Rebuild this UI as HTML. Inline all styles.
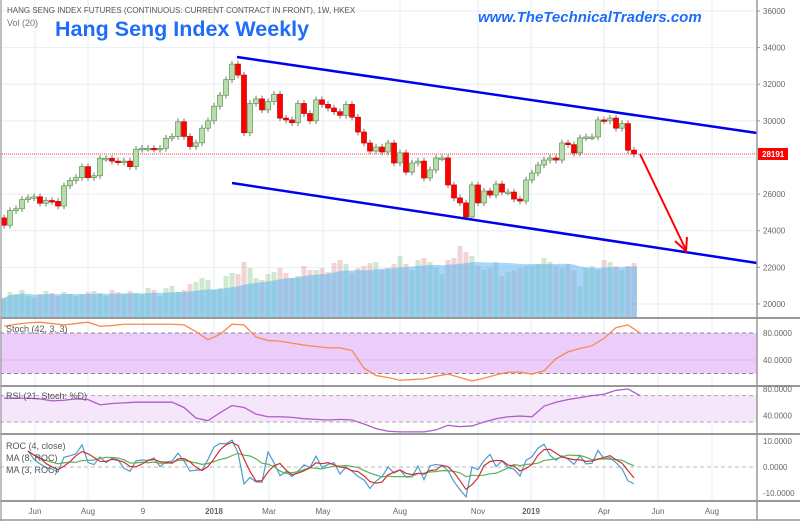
<!DOCTYPE html>
<html><head><meta charset="utf-8"><style>
html,body{margin:0;padding:0;background:#fff;}
svg{display:block;font-family:"Liberation Sans",sans-serif;}
</style></head><body>
<svg id="c" width="800" height="521" viewBox="0 0 800 521"></svg>
<script>
const closes=[24300,25100,25200,25700,25800,25850,25500,25650,25600,25350,
26450,26750,26900,27500,26900,27000,27950,27950,27800,27750,
27800,27500,28450,28500,28500,28450,28500,29050,29150,29950,
29150,28600,28800,29600,30000,30800,31400,32250,33100,32500,
29350,30950,31200,30600,31050,31450,30150,30050,29900,30950,
30400,30000,31150,30900,30700,30500,30300,30900,30200,29390,
28790,28350,28570,28300,28790,27700,28250,27200,27700,27800,
26880,27320,27970,27970,26500,25790,25520,24750,26500,25520,
26170,25950,26550,26110,26110,25730,25620,26770,27150,27590,
27860,27970,27860,28790,28700,28250,29070,29120,29120,30050,
30000,30150,29600,29850,28400,28191];
const volumes=[20,26,24,28,22,20,24,27,25,22,26,24,22,24,26,27,25,22,28,26,
24,27,25,24,30,28,22,30,32,26,28,34,36,40,38,28,30,42,45,44,
56,50,40,38,44,46,50,45,40,42,52,48,48,50,46,55,58,54,45,50,
52,55,56,48,50,54,62,54,48,58,60,56,50,44,58,60,72,66,62,52,
48,50,56,42,46,48,50,52,52,54,60,56,52,50,54,48,32,50,52,48,
58,56,52,48,52,55];
const stochVals=[90,93,95,96,94,92,94,96,90,91,93,93,93,93,93,92,82,70,78,93,92,74,69,68,65,62,60,58,58,54,28,17,14,10,11,12,16,19,14,9,13,18,22,22,19,24,42,52,57,61,72,88,92,80];
const rsiVals=[66,66,66,65,62,63,65,64,56,58,59,60,60,60,60,52,36,32,44,55,52,42,38,38,37,35,34,33,34,33,27,20,16,15,15,15,18,25,23,24,30,35,38,39,38,54,60,64,67,70,72,78,80,70];
const priceTicks=[36000,34000,32000,30000,26000,24000,22000,20000];
const timeLabels=["Jun","Aug","9","2018","Mar","May","Aug","Nov","2019","Apr","Jun","Aug"];
const timeLabelX=[35,88,143,214,269,323,400,478,531,604,658,712];
const lastPrice=28191;

const svg=document.getElementById('c');
const NS='http://www.w3.org/2000/svg';
function mk(t,a,parent){const e=document.createElementNS(NS,t);for(const k in a)e.setAttribute(k,a[k]);(parent||svg).appendChild(e);return e;}
const xOf=i=>4+6*i;
const yP=v=>11+(36000-v)*0.01831;
const yS=v=>333+(80-v)*0.675;
const yR=v=>389+(80-v)*0.66;
const yRoc=v=>467-v*2.6;
const yV=v=>318-v;

const grid=mk('g',{});

timeLabelX.forEach(x=>mk('line',{x1:x,y1:0,x2:x,y2:501,stroke:'#e6eef6','stroke-width':1},grid));
[36000,34000,32000,30000,28000,26000,24000,22000,20000].forEach(v=>mk('line',{x1:0,y1:yP(v),x2:757,y2:yP(v),stroke:'#e6eef6','stroke-width':1},grid));

const vg=mk('g',{});
volumes.forEach((v,i)=>{const up=i==0||closes[i]>=closes[i-1];
 const r=mk('rect',{x:xOf(i)-2.5,y:yV(v),width:5,height:v,fill:up?'rgba(150,205,150,0.45)':'rgba(225,160,160,0.45)'},vg);
 });
let maPts=[];volumes.forEach((v,i)=>{const s=volumes.slice(Math.max(0,i-19),i+1);const m=s.reduce((a,b)=>a+b,0)/s.length;maPts.push([xOf(i),yV(m)]);});
let d='M'+(xOf(0)-3)+',318 L'+(xOf(0)-3)+','+maPts[0][1]+maPts.map(p=>' L'+p[0]+','+p[1]).join('')+' L'+(xOf(volumes.length-1)+3)+','+maPts[maPts.length-1][1]+' L'+(xOf(volumes.length-1)+3)+',318Z';
const va=mk('path',{d:d,fill:'rgba(95,180,240,0.55)'});

const pl=mk('line',{x1:0,y1:yP(lastPrice),x2:757,y2:yP(lastPrice),stroke:'#f33','stroke-width':1,'stroke-dasharray':'1,1'});


const cg=mk('g',{});
closes.forEach((c,i)=>{const o=i==0?24700:closes[i-1];const up=c>=o;
 const hi=Math.max(o,c)+180,lo=Math.min(o,c)-180;
 mk('line',{x1:xOf(i),y1:yP(hi),x2:xOf(i),y2:yP(lo),stroke:'#777','stroke-width':1},cg);
 const t=yP(Math.max(o,c)),b=yP(Math.min(o,c));
 const r=mk('rect',{x:xOf(i)-2.5,y:t,width:5,height:Math.max(1.5,b-t),fill:up?'#b8dcae':'#f00',stroke:up?'#5a9a4a':'#c00','stroke-width':0.7},cg);
 });

const ch1=mk('line',{x1:237,y1:57,x2:757,y2:133,stroke:'#0000ee','stroke-width':2.5});

const ch2=mk('line',{x1:232,y1:183,x2:757,y2:263,stroke:'#0000ee','stroke-width':2.5});

const ar=mk('g',{});
mk('line',{x1:640,y1:154,x2:686,y2:250,stroke:'#f00','stroke-width':2},ar);
mk('polyline',{points:'675,241 686,251 687,237',fill:'none',stroke:'#f00','stroke-width':2},ar);

const sg=mk('g',{});
mk('rect',{x:0,y:yS(80),width:757,height:yS(20)-yS(80),fill:'#ecccfa'},sg);
mk('line',{x1:0,y1:yS(40),x2:757,y2:yS(40),stroke:'#dcb8f0'},sg);
[80,20].forEach(v=>mk('line',{x1:0,y1:yS(v),x2:757,y2:yS(v),stroke:'#888','stroke-dasharray':'4,3'},sg));
const sl=mk('polyline',{points:stochVals.map((v,k)=>xOf(2*k)+','+yS(v)).join(' '),fill:'none',stroke:'#f98a4a','stroke-width':1.3},sg);

const rg=mk('g',{});
mk('rect',{x:0,y:yR(70),width:757,height:yR(30)-yR(70),fill:'#f5e6fc'},rg);
[70,30].forEach(v=>mk('line',{x1:0,y1:yR(v),x2:757,y2:yR(v),stroke:'#aaa','stroke-dasharray':'4,3'},rg));
const rl=mk('polyline',{points:rsiVals.map((v,k)=>xOf(2*k)+','+yR(v)).join(' '),fill:'none',stroke:'#b05cc8','stroke-width':1.3},rg);

const og=mk('g',{});
mk('line',{x1:0,y1:yRoc(0),x2:757,y2:yRoc(0),stroke:'#bbb','stroke-dasharray':'4,3'},og);
const roc=[];closes.forEach((c,i)=>{if(i>=4)roc.push([i,(c/closes[i-4]-1)*100]);});
function ma(n){return roc.map((p,j)=>{const s=roc.slice(Math.max(0,j-n+1),j+1);return [p[0],s.reduce((a,b)=>a+b[1],0)/s.length];});}
[[roc,'#4a9ccc','roc-line'],[ma(8),'#5cb05c','roc-ma8-line'],[ma(3),'#d03030','roc-ma3-line']].forEach(([arr,col,nm])=>{
 const l=mk('polyline',{points:arr.map(p=>xOf(p[0])+','+yRoc(p[1])).join(' '),fill:'none',stroke:col,'stroke-width':1.2},og);
 });

[318,386,434,501].forEach(y=>mk('line',{x1:0,y1:y,x2:800,y2:y,stroke:'#999','stroke-width':2}));
mk('line',{x1:757,y1:0,x2:757,y2:521,stroke:'#999','stroke-width':1.5});
mk('line',{x1:1,y1:0,x2:1,y2:521,stroke:'#aaa','stroke-width':1.5});
mk('line',{x1:0,y1:520,x2:800,y2:520,stroke:'#999','stroke-width':1.5});

const ax=mk('g',{'font-size':8,fill:'#666'});
priceTicks.forEach(v=>{mk('line',{x1:757,y1:yP(v),x2:760,y2:yP(v),stroke:'#999'},ax);const t=mk('text',{x:763,y:yP(v)+3},ax);t.textContent=v;});
const pb=mk('g',{});
mk('rect',{x:758,y:yP(lastPrice)-6,width:30,height:12,fill:'#f00'},pb);
const pt=mk('text',{x:762,y:yP(lastPrice)+3,'font-size':8,fill:'#fff','font-weight':'bold'},pb);pt.textContent=lastPrice;
const ind=[[yS(80),'80.0000'],[yS(40),'40.0000'],[yR(80),'80.0000'],[yR(40),'40.0000'],[yRoc(10),'10.0000'],[yRoc(0),'0.0000'],[yRoc(-10),'-10.0000']];
ind.forEach(([y,s])=>{const t=mk('text',{x:763,y:y+3,'font-size':8,fill:'#666'});t.textContent=s;});
const tg=mk('g',{'font-size':8,fill:'#666','text-anchor':'middle'});
timeLabels.forEach((s,k)=>{const t=mk('text',{x:timeLabelX[k],y:514,'font-weight':s.length==4?'bold':'normal'},tg);t.textContent=s;});
</script>
<div style="position:absolute;left:7px;top:6px;font:8px 'Liberation Sans',sans-serif;color:#555;white-space:nowrap">HANG SENG INDEX FUTURES (CONTINUOUS: CURRENT CONTRACT IN FRONT), 1W, HKEX</div>
<div style="position:absolute;left:7px;top:18px;font:9px 'Liberation Sans',sans-serif;color:#777">Vol (20)</div>
<div style="position:absolute;left:55px;top:17px;font:bold 21.5px 'Liberation Sans',sans-serif;color:#1e6cf8;white-space:nowrap">Hang Seng Index Weekly</div>
<div style="position:absolute;left:478px;top:9px;font:italic bold 15px 'Liberation Sans',sans-serif;color:#1e6cf8;white-space:nowrap">www.TheTechnicalTraders.com</div>
<div style="position:absolute;left:6px;top:324px;font:9px 'Liberation Sans',sans-serif;color:#555">Stoch (42, 3, 3)</div>
<div style="position:absolute;left:6px;top:391px;font:9px 'Liberation Sans',sans-serif;color:#555">RSI (21, Stoch: %D)</div>
<div style="position:absolute;left:6px;top:440px;font:9px/12px 'Liberation Sans',sans-serif;color:#555">ROC (4, close)<br>MA (8, ROC)<br>MA (3, ROC)</div>
</body></html>
